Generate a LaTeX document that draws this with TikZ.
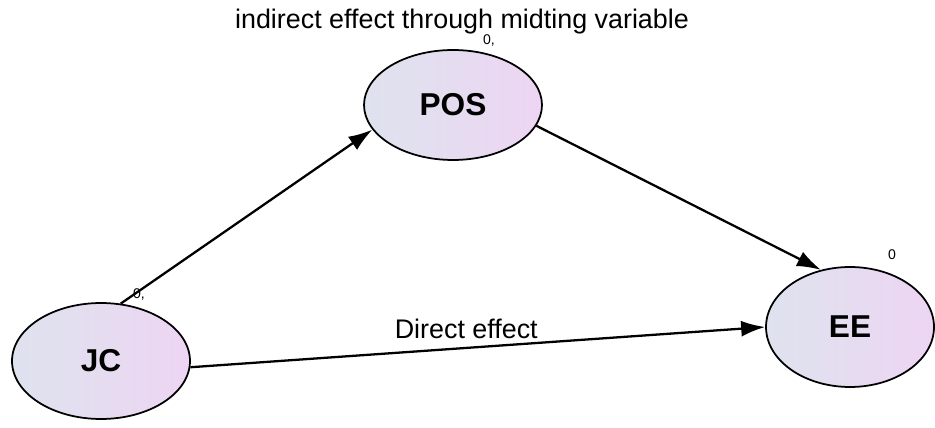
\documentclass[tikz,border=0pt]{standalone}
\usepackage{fontspec}
\setmainfont{Liberation Sans}
\usetikzlibrary{arrows.meta,shapes.geometric}
\definecolor{varleft}{HTML}{DEE3EE}
\definecolor{varright}{HTML}{EDD5F3}

\begin{document}
\begin{tikzpicture}[x=0.02cm, y=-0.02cm, every node/.style={font=\fontsize{15.3}{18}\selectfont}, >={Latex[length=4.8mm, width=3.2mm]}, var/.style={ellipse, draw, line width=1pt, shading=axis, left color=varleft, right color=varright, inner sep=0pt, font=\fontsize{18}{21}\selectfont\bfseries}, path/.style={->, line width=1.3pt}, lab/.style={font=\fontsize{8}{9}\selectfont, inner sep=0pt}]
	\useasboundingbox (0,0) rectangle (935,428);
	\node[var, minimum width=3.56cm, minimum height=2.32cm] (JC) at (101,361) {JC};
	\node[var, minimum width=3.56cm, minimum height=2.2cm] (POS) at (453,105) {POS};
	\node[var, minimum width=3.36cm, minimum height=2.4cm] (EE) at (850,327) {EE};
	\node (title) at (462,22) {indirect effect through midting variable};
	\draw[path] (JC.71) -- (POS.197);
	\draw[path] (POS.-14) -- (EE.117);
	\draw[path] (JC.-4) -- (EE.180) node[pos=0.48, above=1pt] (direct) {Direct effect};
	\node[lab] (jcval) at (139,294) {0,};
	\node[lab] (posval) at (489,40) {0,};
	\node[lab] (eeval) at (892,255) {0};
\end{tikzpicture}
\end{document}
